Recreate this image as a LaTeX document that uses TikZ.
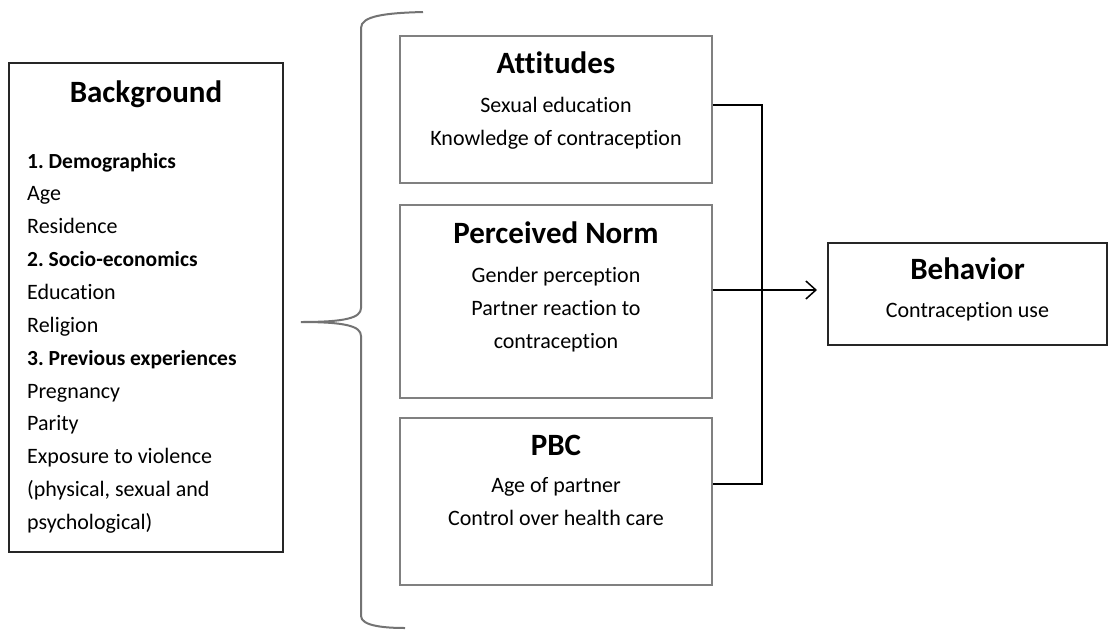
\documentclass[tikz,border=0pt]{standalone}
\usepackage{fontspec}
\setmainfont{Carlito}[Ligatures={NoCommon}]
\usetikzlibrary{arrows.meta}
\begin{document}
\frenchspacing
\begin{tikzpicture}[x=1pt,y=-1pt,
  graybox/.style={draw=black!50,line width=1.5pt,inner sep=0pt},
  darkbox/.style={draw=black!85,line width=1.6pt,inner sep=0pt},
  ttl/.style={font=\fontsize{31}{33}\selectfont\bfseries,anchor=base,inner sep=0pt},
  body/.style={font=\fontsize{22}{24}\selectfont,anchor=base,inner sep=0pt},
  item/.style={font=\fontsize{22}{24}\selectfont,anchor=base west,inner sep=0pt},
  itemb/.style={font=\fontsize{21.5}{24}\selectfont\bfseries\frenchspacing,anchor=base west,inner sep=0pt},
  conn/.style={draw=black,line width=1.5pt},
  bracestyle/.style={draw=black!55,line width=2pt}]
\useasboundingbox[fill=white] (0,0) rectangle (1112,630);

% Background box
\node[darkbox,minimum width=274pt,minimum height=489pt] (bg) at (146,307.5) {};
\node[ttl] (bgt) at (146,102) {Background};
\node[itemb] (b1) at (27,168) {1. Demographics};
\node[item] (b2) at (27,200) {Age};
\node[item] (b3) at (27,233) {Residence};
\node[itemb] (b4) at (27,266) {2. Socio-economics};
\node[item] (b5) at (27,299) {Education};
\node[item] (b6) at (27,332) {Religion};
\node[itemb] (b7) at (27,365) {3. Previous experiences};
\node[item] (b8) at (27,398) {Pregnancy};
\node[item] (b9) at (27,430) {Parity};
\node[item] (b10) at (27,463) {Exposure to violence};
\node[item] (b11) at (27,496) {(physical, sexual and};
\node[item] (b12) at (27,529) {psychological)};

% Brace
\draw[bracestyle] (423,12) .. controls (385,13) and (361,16) .. (361,28)
  -- (361,308) .. controls (361,318) and (345,322) .. (301,322)
  .. controls (345,322) and (361,326) .. (361,336)
  -- (361,616) .. controls (361,626) and (385,628) .. (405,628);

% Middle boxes
\node[graybox,minimum width=312pt,minimum height=147pt] (att) at (556,109.5) {};
\node[ttl] (attt) at (556,73) {Attitudes};
\node[body] (att1) at (556,112) {Sexual education};
\node[body] (att2) at (556,145) {Knowledge of contraception};

\node[graybox,minimum width=312pt,minimum height=193pt] (pn) at (556,301.5) {};
\node[ttl] (pnt) at (556,243) {Perceived Norm};
\node[body] (pn1) at (556,282) {Gender perception};
\node[body] (pn2) at (556,315) {Partner reaction to};
\node[body] (pn3) at (556,348) {contraception};

\node[graybox,minimum width=312pt,minimum height=167pt] (pbc) at (556,501.5) {};
\node[ttl] (pbct) at (556,455) {PBC};
\node[body] (pbc1) at (556,492) {Age of partner};
\node[body] (pbc2) at (556,525) {Control over health care};

% Behavior box
\node[darkbox,minimum width=279pt,minimum height=102pt] (beh) at (967.5,294) {};
\node[ttl] (beht) at (967.5,279) {Behavior};
\node[body] (beh1) at (967.5,317) {Contraception use};

% Connectors
\coordinate (jt) at (762,105);
\coordinate (jb) at (762,484);
\draw[conn] (att.east |- jt) -- (jt) -- (jb) -- (pbc.east |- jb);
\draw[conn,-{Straight Barb[length=10pt,width=18pt,line width=1.5pt]}] (pn.east |- 0,290) -- (817,290);
\end{tikzpicture}
\end{document}
